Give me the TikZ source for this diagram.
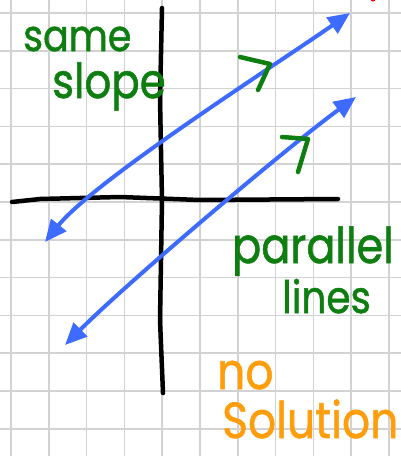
\documentclass[tikz,border=0pt]{standalone}
\usepackage{fontspec}
\usepackage{tikz}
\usetikzlibrary{arrows.meta}
\newfontfamily\handfont[FakeBold=1.2]{Poppins}
\newcommand\tallnote[1]{\scalebox{1}[1.15]{#1}}
\definecolor{gridgray}{HTML}{D2D2D2}
\definecolor{lineblue}{HTML}{3D6BFF}
\definecolor{notegreen}{HTML}{0E7E10}
\definecolor{noteorange}{HTML}{FF9E0A}
\tikzset{
  gridline/.style={draw=gridgray, line width=1.6pt},
  axisline/.style={draw=black, line width=4.5pt, line cap=round, line join=round},
  graphline/.style={draw=lineblue, line width=4pt,
                    {Triangle[length=22pt, width=19pt]}-{Triangle[length=22pt, width=19pt]}},
  tickmark/.style={draw=notegreen, line width=4.5pt, line cap=round, line join=round},
  note/.style={font=\handfont, inner sep=0pt, anchor=base west},
}

\begin{document}
\begin{tikzpicture}[x=1pt, y=-1pt]
    \useasboundingbox (0,0) rectangle (401,456);
    \fill[white] (0,0) rectangle (401,456);
    \foreach \k in {0,...,10} \draw[gridline] ({11+37.8*\k},0) -- ({11+37.8*\k},456);
    \foreach \k in {0,...,11} \draw[gridline] (0,{13+37.8*\k}) -- (401,{13+37.8*\k});
    \fill[red] (373,-1) circle (2.5);
    \coordinate (ytop) at (162,8);
    \coordinate (ybot) at (163,393);
    \coordinate (xleft) at (12,202);
    \coordinate (xright) at (338,199);
    \draw[axisline] (ytop) -- (160,100) -- (162,200) -- (160,320) -- (ybot);
    \draw[axisline] (xleft) -- (40,199) -- (120,197) -- (200,200) -- (xright);
    \coordinate (a0) at (45,242);
    \coordinate (a1) at (350,13);
    \coordinate (b0) at (65,345);
    \coordinate (b1) at (356,97);
    \draw[graphline] (a0) .. controls (95,180) and (280,62) .. (a1);
    \draw[graphline] (b0) .. controls (130,280) and (290,145) .. (b1);
    \draw[tickmark] (240,57) -- (270,64) -- (258,90);
    \draw[tickmark] (282,137) -- (308,139) -- (298,172);
    \node[note, text=notegreen, font=\handfont\fontsize{38}{40}\selectfont] (same) at (23,51) {\tallnote{same}};
    \node[note, text=notegreen, font=\handfont\fontsize{42}{44}\selectfont] (slope) at (52,98) {\tallnote{slope}};
    \node[note, text=notegreen, font=\handfont\fontsize{43}{46}\selectfont] (parallel) at (232,263) {\tallnote{parallel}};
    \node[note, text=notegreen, font=\handfont\fontsize{39}{41}\selectfont] (lines) at (282,313) {\tallnote{lines}};
    \node[note, text=noteorange, font=\handfont\fontsize{44}{46}\selectfont] (no) at (217,389) {\tallnote{no}};
    \node[note, text=noteorange, font=\handfont\fontsize{44}{47}\selectfont] (solution) at (222,438) {\tallnote{Solution}};
  \end{tikzpicture}
\end{document}
